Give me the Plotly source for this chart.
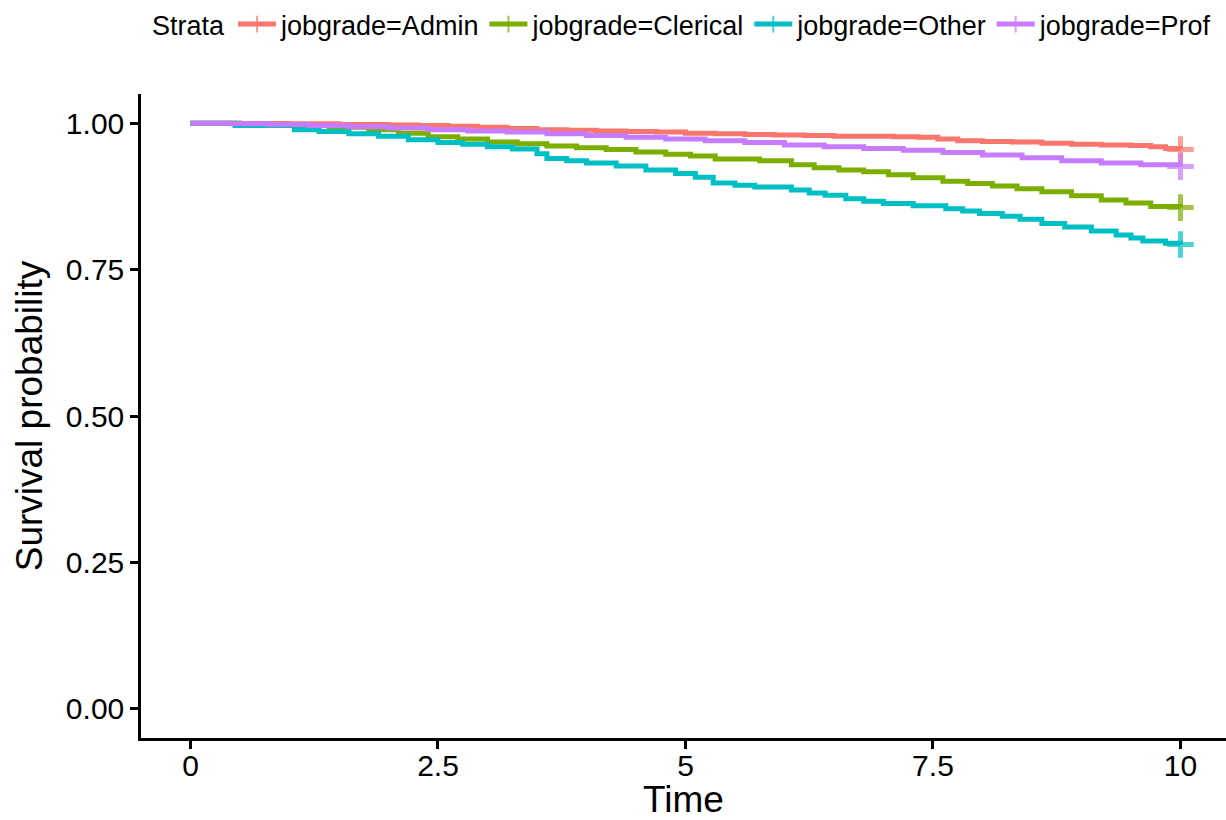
import plotly.graph_objects as go

# Kaplan-Meier step estimates by job grade (time in years, survival probability)
admin_time = [0, 0.5, 1.0, 1.5, 2.0, 2.3, 2.6, 2.9, 3.2, 3.5, 3.8, 4.1, 4.4, 4.7, 5.0, 5.3, 5.6,
              5.9, 6.2, 6.5, 6.8, 7.1, 7.35, 7.55, 7.75, 8.0, 8.3, 8.6, 8.9, 9.2, 9.5, 9.7, 9.85,
              10.0]
admin_surv = [1.0, 0.9995, 0.999, 0.998, 0.997, 0.996, 0.995, 0.993, 0.991, 0.989, 0.988, 0.987,
              0.986, 0.985, 0.983, 0.982, 0.981, 0.980, 0.979, 0.978, 0.978, 0.977, 0.976, 0.973,
              0.970, 0.969, 0.968, 0.966, 0.964, 0.963, 0.962, 0.960, 0.957, 0.955]

clerical_time = [0, 0.5, 1.0, 1.4, 1.8, 2.1, 2.4, 2.7, 3.0, 3.3, 3.6, 3.9, 4.2, 4.5, 4.8, 5.05,
                 5.3, 5.75, 6.07, 6.3, 6.55, 6.8, 7.05, 7.3, 7.6, 7.85, 8.1, 8.35, 8.6, 8.9, 9.2,
                 9.45, 9.7, 10.0]
clerical_surv = [1.0, 0.998, 0.996, 0.993, 0.989, 0.983, 0.977, 0.973, 0.968, 0.965, 0.961, 0.958,
                 0.955, 0.951, 0.947, 0.944, 0.939, 0.936, 0.929, 0.924, 0.920, 0.917, 0.912,
                 0.907, 0.901, 0.897, 0.893, 0.888, 0.883, 0.876, 0.869, 0.864, 0.858, 0.856]

other_time = [0, 0.45, 1.05, 1.3, 1.6, 1.9, 2.2, 2.5, 2.75, 3.0, 3.25, 3.5, 3.6, 3.8, 4.0, 4.3,
              4.6, 4.9, 5.1, 5.28, 5.5, 5.7, 6.07, 6.25, 6.41, 6.62, 6.8, 7.0, 7.3, 7.63, 7.8,
              7.97, 8.2, 8.38, 8.6, 8.83, 9.1, 9.35, 9.5, 9.62, 9.85, 10.0]
other_surv = [1.0, 0.996, 0.989, 0.986, 0.982, 0.978, 0.972, 0.967, 0.964, 0.960, 0.956, 0.948,
              0.940, 0.936, 0.932, 0.927, 0.920, 0.914, 0.908, 0.898, 0.894, 0.891, 0.886, 0.881,
              0.877, 0.871, 0.867, 0.863, 0.859, 0.854, 0.850, 0.846, 0.841, 0.836, 0.829, 0.823,
              0.816, 0.809, 0.804, 0.799, 0.795, 0.793]

prof_time = [0, 0.4, 0.8, 1.2, 1.6, 2.0, 2.4, 2.8, 3.2, 3.6, 4.0, 4.4, 4.8, 5.2, 5.6, 6.0, 6.4,
             6.8, 7.2, 7.6, 8.0, 8.4, 8.8, 9.2, 9.6, 10.0]
prof_surv = [1.0, 0.999, 0.998, 0.996, 0.994, 0.992, 0.989, 0.987, 0.985, 0.982, 0.979, 0.976,
             0.973, 0.970, 0.967, 0.963, 0.960, 0.957, 0.954, 0.950, 0.946, 0.941, 0.936, 0.932,
             0.929, 0.926]

strata_names = ["jobgrade=Admin", "jobgrade=Clerical", "jobgrade=Other", "jobgrade=Prof"]
strata_colors = ["#F8766D", "#7CAE00", "#00BFC4", "#C77CFF"]

x_ticks = [0, 2.5, 5, 7.5, 10]
x_tick_labels = ["0", "2.5", "5", "7.5", "10"]
y_ticks = [0, 0.25, 0.5, 0.75, 1.0]
y_tick_labels = ["0.00", "0.25", "0.50", "0.75", "1.00"]

series = [
    (admin_time, admin_surv),
    (clerical_time, clerical_surv),
    (other_time, other_surv),
    (prof_time, prof_surv),
]

FONT = "Liberation Sans, Arial, Helvetica, sans-serif"

fig = go.Figure()
for (t, s), name, color in zip(series, strata_names, strata_colors):
    # censoring mark only at the last observation
    sizes = [0] * (len(t) - 1) + [19]
    fig.add_trace(go.Scatter(
        x=t, y=s, name=name, mode="lines+markers",
        line=dict(color=color, width=5, shape="hv"),
        marker=dict(symbol="cross-thin", size=sizes,
                    line=dict(color=color, width=5), color=color),
    ))

fig.update_layout(
    width=1226, height=820,
    margin=dict(l=141, r=0, t=94, b=80),
    paper_bgcolor="white", plot_bgcolor="white",
    font=dict(family=FONT, color="black"),
    showlegend=True,
    legend=dict(
        orientation="h", x=0.5, xanchor="center", y=1.108, yanchor="middle",
        title=dict(text="Strata", side="left", font=dict(size=27)),
        font=dict(size=27), itemsizing="constant", itemwidth=38, tracegroupgap=0,
        bgcolor="rgba(0,0,0,0)",
    ),
    xaxis=dict(
        range=[-0.5, 10.46], tickvals=x_ticks, ticktext=x_tick_labels,
        showgrid=False, zeroline=False, showline=True, linecolor="black", linewidth=2.5,
        ticks="outside", ticklen=8, tickwidth=2.5, tickcolor="black",
        ticklabelstandoff=-9,
        tickfont=dict(size=30, color="black"),
        title=dict(text="Time", font=dict(size=37, color="black"), standoff=12),
    ),
    yaxis=dict(
        range=[-0.05, 1.05], tickvals=y_ticks, ticktext=y_tick_labels,
        showgrid=False, zeroline=False, showline=True, linecolor="black", linewidth=2.5,
        ticks="outside", ticklen=8, tickwidth=2.5, tickcolor="black",
        tickfont=dict(size=30, color="black"),
        title=dict(text="Survival probability", font=dict(size=37, color="black"), standoff=12),
    ),
)

fig.write_html("out.html")
